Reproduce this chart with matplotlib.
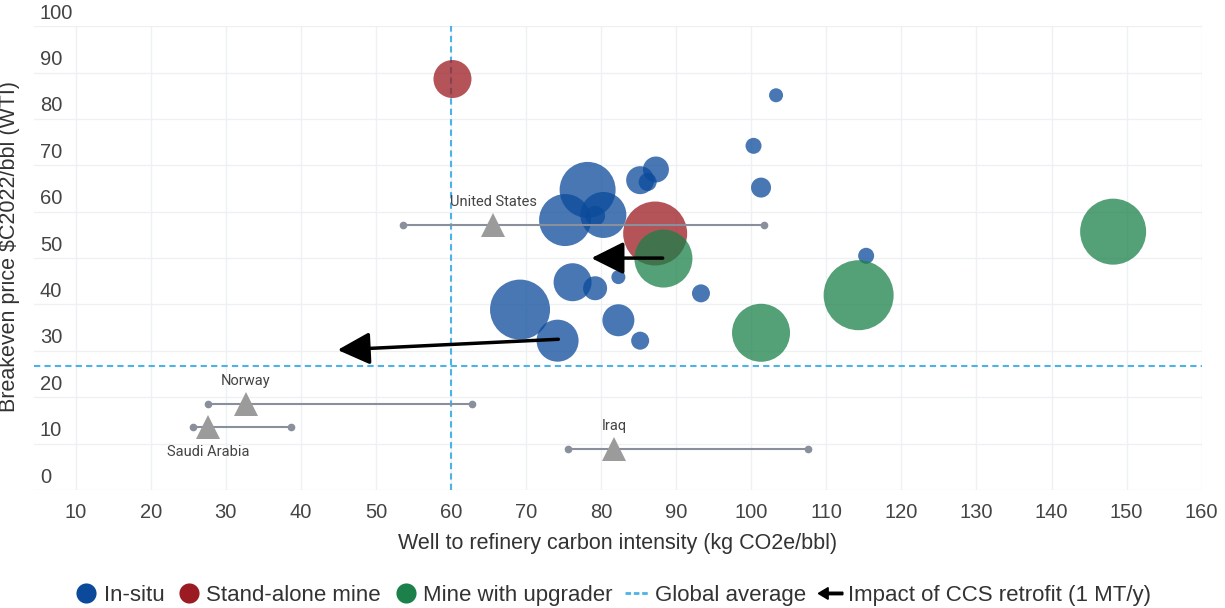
import matplotlib
matplotlib.use('Agg')
import matplotlib.pyplot as plt
from matplotlib.lines import Line2D
from matplotlib.patches import FancyArrow
from matplotlib.legend_handler import HandlerBase
from matplotlib.transforms import ScaledTranslation

plt.rcParams['font.family'] = ['Liberation Sans', 'DejaVu Sans']

# In-situ projects: carbon intensity, breakeven price, bubble size
insitu_x = [103.3, 100.3, 101.3, 78.2, 75.2, 80.3, 79.2, 85.2, 87.3, 86.2,
            76.2, 79.2, 82.3, 69.2, 74.2, 82.3, 85.2, 93.3, 115.3]
insitu_y = [85.1, 74.2, 65.2, 64.7, 58.2, 59.3, 59.1, 66.8, 69.1, 66.4,
            44.8, 43.5, 45.9, 38.9, 32.2, 36.6, 32.2, 42.4, 50.5]
insitu_size = [7, 8, 10, 28, 26, 23, 10, 14, 13, 9,
               19, 12, 7, 30, 21, 16, 9, 9, 8]

mine_x = [60.2, 87.2]
mine_y = [88.6, 55.3]
mine_size = [19, 32]

upg_x = [88.3, 101.3, 114.3, 148.2]
upg_y = [49.9, 33.9, 42.0, 55.7]
upg_size = [29, 29, 35, 33]

# CCS retrofit arrows: start -> end
ccs_x0 = [88.2, 74.3]
ccs_y0 = [50.0, 32.5]
ccs_x1 = [78.7, 44.9]
ccs_y1 = [50.0, 30.2]

# country ranges
countries = ['United States', 'Norway', 'Saudi Arabia', 'Iraq']
c_lo = [53.6, 27.6, 25.7, 75.6]
c_hi = [101.7, 62.8, 38.7, 107.6]
c_mid = [65.6, 32.7, 27.7, 81.7]
c_price = [57.1, 18.5, 13.6, 8.8]
c_label_above = [True, True, False, True]

global_ci = 60
global_price = 26.7

xticks = list(range(10, 161, 10))
yticks = list(range(0, 101, 10))

blue = '#0B4A9B'
red = '#9B1B22'
green = '#1B8049'
avg_col = '#4DB3E6'


def bubble_area(r):
    return [(2 * v * 0.72) ** 2 for v in r]


class HandlerArrow(HandlerBase):
    def create_artists(self, legend, orig_handle, xdescent, ydescent,
                       width, height, fontsize, trans):
        a = FancyArrow(width, 0.5 * height, -width, 0, width=height * 0.16,
                       head_width=height * 0.75, head_length=width * 0.4,
                       length_includes_head=True, color='black', transform=trans)
        return [a]


fig = plt.figure(figsize=(12.25, 6.08), dpi=100)
ax = fig.add_axes([0.028, 0.194, 0.953, 0.763])

ax.axvline(global_ci, color=avg_col, ls=(0, (3, 2)), lw=1.5, zorder=1)
ax.axhline(global_price, color=avg_col, ls=(0, (3, 2)), lw=1.5, zorder=1)

ax.scatter(insitu_x, insitu_y, s=bubble_area(insitu_size), color=blue,
           alpha=0.75, linewidths=0, zorder=2)
ax.scatter(mine_x, mine_y, s=bubble_area(mine_size), color=red,
           alpha=0.75, linewidths=0, zorder=2)
ax.scatter(upg_x, upg_y, s=bubble_area(upg_size), color=green,
           alpha=0.75, linewidths=0, zorder=2)

for name, lo, hi, mid, p, above in zip(countries, c_lo, c_hi, c_mid, c_price, c_label_above):
    ax.plot([lo, hi], [p, p], color='#8A8F9C', lw=1.5, marker='o', ms=4.5, zorder=3)
    ax.plot([mid], [p], marker='^', color='#9B9B9B', ms=17, mew=0, zorder=3)
    ax.annotate(name, (mid, p), xytext=(0, 17 if above else -18), textcoords='offset points',
                ha='center', va='center', fontsize=10.5, color='#444444',
                family=['Roboto', 'DejaVu Sans'], zorder=4)

for x0, y0, x1, y1 in zip(ccs_x0, ccs_y0, ccs_x1, ccs_y1):
    ax.annotate('', xy=(x1, y1), xytext=(x0, y0),
                arrowprops=dict(arrowstyle='-|>,head_length=0.9,head_width=0.45',
                                mutation_scale=22, lw=2.5, color='black',
                                shrinkA=0, shrinkB=0), zorder=5)

ax.set_xlim(4.5, 160)
ax.set_ylim(0, 100)
ax.set_xticks(xticks)
ax.set_yticks(yticks)
ax.grid(True, color='#EEF0F4', lw=1)
ax.set_axisbelow(True)
for s in ax.spines.values():
    s.set_visible(False)
ax.tick_params(axis='both', length=0, labelsize=14.5, colors='#444444')
ax.tick_params(axis='x', pad=9)
ax.tick_params(axis='y', pad=-4)
offset = ScaledTranslation(0, 2.5 / 72, fig.dpi_scale_trans)
for lab in ax.get_yticklabels():
    lab.set_ha('left')
    lab.set_va('bottom')
    lab.set_transform(lab.get_transform() + offset)

ax.set_xlabel('Well to refinery carbon intensity (kg CO2e/bbl)', fontsize=15.5,
              color='#333333', labelpad=8)
ax.set_ylabel(r'Breakeven price \$C2022/bbl (WTI)', fontsize=15.5, color='#333333',
              labelpad=4)
ax.yaxis.set_label_coords(-0.012, 0.525)

handles = [
    Line2D([], [], ls='', marker='o', ms=14.5, color=blue, mew=0),
    Line2D([], [], ls='', marker='o', ms=14.5, color=red, mew=0),
    Line2D([], [], ls='', marker='o', ms=14.5, color=green, mew=0),
    Line2D([], [], color=avg_col, ls=(0, (2, 1)), lw=2),
    FancyArrow(0, 0, 1, 0),
]
labels = ['In-situ', 'Stand-alone mine', 'Mine with upgrader', 'Global average',
          'Impact of CCS retrofit (1 MT/y)']
fig.legend(handles, labels, loc='lower center', bbox_to_anchor=(0.5, -0.03), ncol=5,
           frameon=False, fontsize=16, handlelength=1.1, handletextpad=0.25,
           columnspacing=0.55, labelcolor='#333333',
           handler_map={FancyArrow: HandlerArrow()})

fig.savefig('out.png', dpi=100)
